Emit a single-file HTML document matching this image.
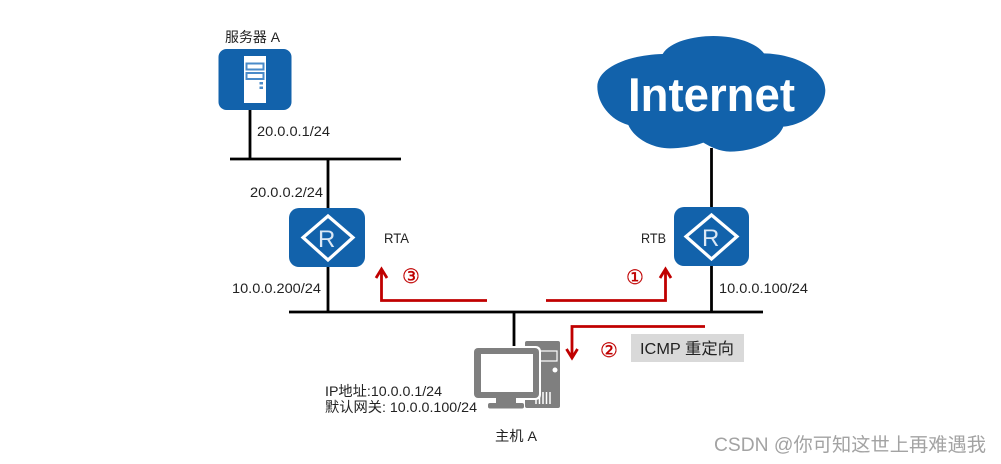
<!DOCTYPE html>
<html><head><meta charset="utf-8"><style>
html,body{margin:0;padding:0;background:#fff;width:1001px;height:464px;overflow:hidden}
svg{display:block;filter:blur(.35px)}
text{font-family:"Liberation Sans","Noto Sans CJK SC",sans-serif;font-size:14px;fill:#222}
</style></head><body>
<svg width="1001" height="464" viewBox="0 0 1001 464" xmlns="http://www.w3.org/2000/svg">
<rect width="1001" height="464" fill="#fff"/>
<g stroke="#000" stroke-width="2.800" fill="none">
<path d="M250 108V159M230 159H401M328 159V312M289 312H763M711.5 148V312M514 312V350"/>
</g>
<!-- server -->
<rect x="218.500" y="49" width="73" height="61" rx="8" fill="#1262ab"/>
<rect x="244" y="56" width="22" height="47" fill="#fff"/>
<rect x="246.500" y="63.500" width="17" height="6" fill="#fff" stroke="#4a8bc9" stroke-width="2"/>
<rect x="246.500" y="73" width="17" height="6" fill="#fff" stroke="#4a8bc9" stroke-width="2"/>
<rect x="259.500" y="82" width="3.500" height="2.500" fill="#4a8bc9"/>
<rect x="259.500" y="86.500" width="3.500" height="2.500" fill="#4a8bc9"/>
<!-- routers -->
<rect x="289" y="208" width="76" height="59" rx="10" fill="#1262ab"/>
<path d="M328 216L353 237.500L328 260L303 237.500Z" fill="none" stroke="#fff" stroke-width="3.200"/>
<text x="318" y="247" style="font-size:24px;fill:#dbe8f5">R</text>
<rect x="674" y="207" width="75" height="59" rx="10" fill="#1262ab"/>
<path d="M711.500 215L737 236.500L711.500 259L686 236.500Z" fill="none" stroke="#fff" stroke-width="3.200"/>
<text x="702" y="246" style="font-size:24px;fill:#dbe8f5">R</text>
<!-- cloud -->
<path transform="translate(590 30) scale(.3333)" fill="#1262ab" d="M218 72C240 35 310 18 370 18C440 18 500 40 522 70C620 72 706 120 706 180C706 240 640 285 580 290C560 340 480 365 420 365C390 365 360 350 340 338C310 350 270 355 240 355C180 355 130 320 115 285C60 270 22 220 22 170C22 115 110 75 218 72Z"/>
<text x="628" y="111" textLength="167" lengthAdjust="spacingAndGlyphs" style="font-size:47px;font-weight:bold;fill:#fff">Internet</text>
<!-- host -->
<rect x="525" y="341" width="35" height="67" rx="2" fill="#7f7f7f"/>
<rect x="534" y="351" width="23" height="10" fill="#7f7f7f" stroke="#fff" stroke-width="1.200"/>
<circle cx="555" cy="370" r="2.500" fill="#fff"/>
<path d="M536 392V404M539.500 392V404M543 392V404M546.500 392V404M550 392V404" stroke="#fff" stroke-width="1.500"/>
<rect x="472" y="346" width="69" height="54" rx="5" fill="#fff"/>
<rect x="474" y="348" width="65" height="50" rx="4" fill="#7f7f7f"/>
<rect x="481" y="354" width="52" height="38" fill="#fff"/>
<rect x="496" y="398" width="20" height="5" fill="#7f7f7f"/>
<rect x="488" y="403" width="36" height="5.500" rx="2" fill="#7f7f7f"/>
<!-- red arrows -->
<g stroke="#c00000" stroke-width="2.800" fill="none">
<path d="M487 300.500H381.500V270M376 278L381.500 269L387 278"/>
<path d="M546 300.500H665.500V270M660 278L665.500 269L671 278"/>
<path d="M705 326.500H572V357M566.500 349L572 358L577.500 349"/>
</g>
<g text-anchor="middle">
<text x="411" y="283" style="font-size:20px;fill:#c00000;stroke:#c00000;stroke-width:.3;font-family:'DejaVu Sans',sans-serif">③</text>
<text x="635" y="284" style="font-size:20px;fill:#c00000;stroke:#c00000;stroke-width:.3;font-family:'DejaVu Sans',sans-serif">①</text>
<text x="609" y="357" style="font-size:20px;fill:#c00000;stroke:#c00000;stroke-width:.3;font-family:'DejaVu Sans',sans-serif">②</text>
</g>
<rect x="631" y="334" width="113" height="28" fill="#d9d9d9"/>
<!-- labels -->
<text x="225" y="42" textLength="55" lengthAdjust="spacingAndGlyphs">服务器 A</text>
<text x="257" y="136" textLength="73" lengthAdjust="spacingAndGlyphs">20.0.0.1/24</text>
<text x="250" y="197" textLength="73" lengthAdjust="spacingAndGlyphs">20.0.0.2/24</text>
<text x="384" y="243" textLength="25" lengthAdjust="spacingAndGlyphs">RTA</text>
<text x="232" y="293" textLength="89" lengthAdjust="spacingAndGlyphs">10.0.0.200/24</text>
<text x="641" y="243" textLength="25" lengthAdjust="spacingAndGlyphs">RTB</text>
<text x="719" y="293" textLength="89" lengthAdjust="spacingAndGlyphs">10.0.0.100/24</text>
<text x="640" y="354" textLength="94" lengthAdjust="spacingAndGlyphs" style="font-size:16px">ICMP 重定向</text>
<text x="325" y="396" textLength="117" lengthAdjust="spacingAndGlyphs">IP地址:10.0.0.1/24</text>
<text x="325" y="412" textLength="152" lengthAdjust="spacingAndGlyphs">默认网关: 10.0.0.100/24</text>
<text x="495" y="441" textLength="42" lengthAdjust="spacingAndGlyphs">主机 A</text>
<text x="714" y="451" textLength="272" lengthAdjust="spacingAndGlyphs" style="font-size:19px;fill:#a3a3a3">CSDN @你可知这世上再难遇我</text>
</svg>
</body></html>
